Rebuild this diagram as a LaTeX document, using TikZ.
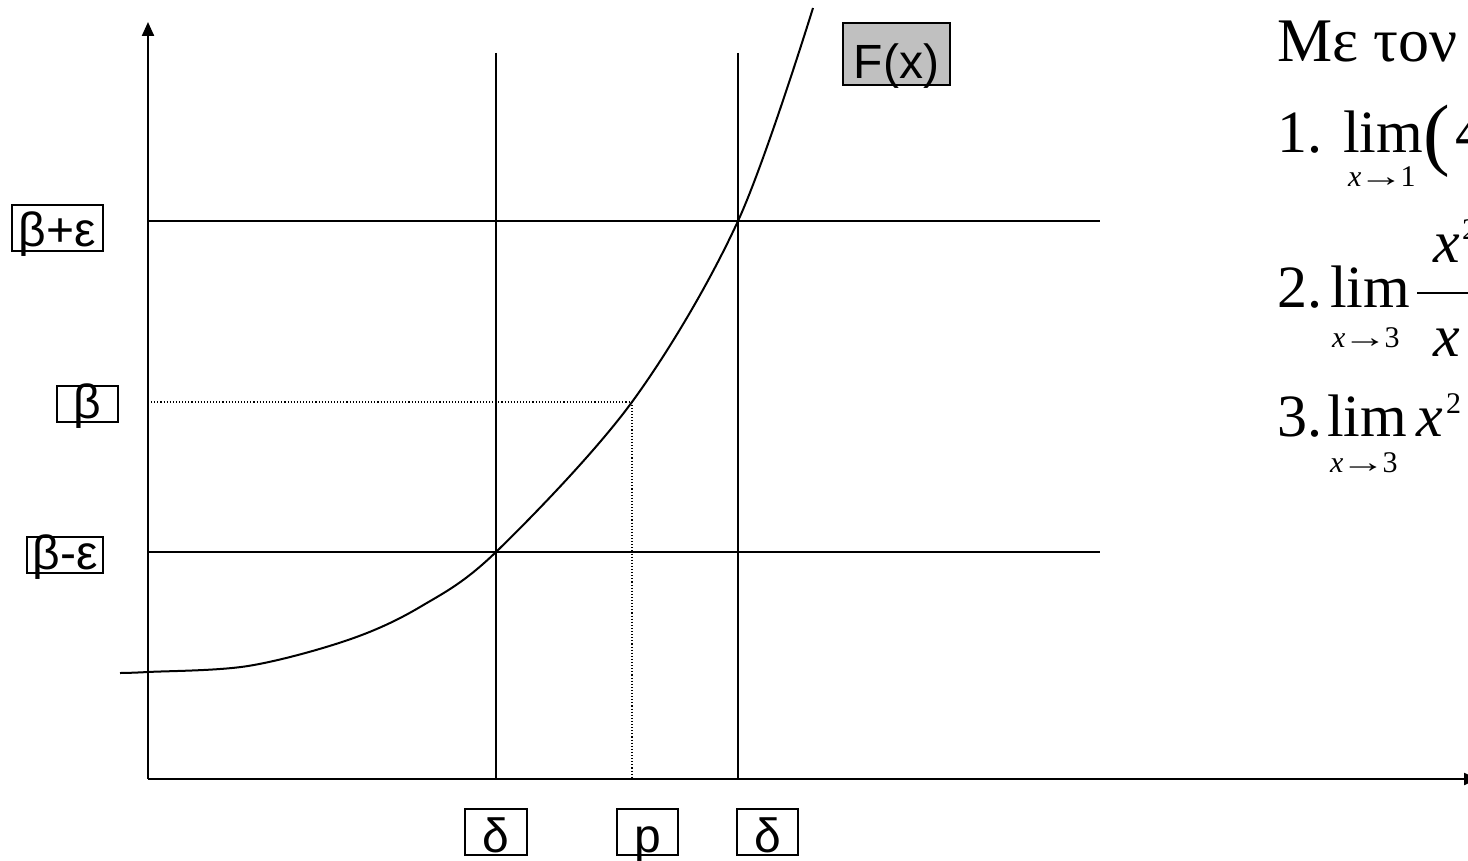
\documentclass[tikz,border=0pt]{standalone}
\usepackage{fontspec}
\usepackage{graphicx}
\setmainfont{Liberation Serif}
\newfontfamily\lblfont{Liberation Sans}
\usetikzlibrary{arrows.meta}
\newcommand{\longarr}{\kern-3pt\scalebox{1.5}[1]{→}\kern-3pt}
\tikzset{
  axis/.style={line width=2.2pt, -{Triangle[width=12pt,length=14pt]}},
  gridline/.style={line width=2pt},
  dotline/.style={line width=1.1pt, dotted},
  curve/.style={line width=2pt},
  lblbox/.style={draw, line width=2pt, font=\lblfont\fontsize{48}{48}\selectfont,
    text depth=0pt, inner xsep=0pt},
  mtext/.style={anchor=base west, inner sep=0pt, font=\fontsize{60}{60}\selectfont},
  stext/.style={anchor=base west, inner sep=0pt, font=\fontsize{30}{30}\selectfont},
  suptext/.style={anchor=base west, inner sep=0pt, font=\fontsize{30}{30}\selectfont},
}
\begin{document}
\begin{tikzpicture}[x=1pt,y=-1pt]
\useasboundingbox (0,0) rectangle (1468,861);
\clip (0,0) rectangle (1468,861);
% axes
\coordinate (O) at (148,779);
\coordinate (ytop) at (148,22);
\coordinate (xend) at (1478,779);
\draw[axis] (O) -- (ytop);
\draw[axis] (O) -- (xend);
% grid lines
\coordinate (hA1) at (148,221); \coordinate (hA2) at (1100,221);
\coordinate (hB1) at (148,552); \coordinate (hB2) at (1100,552);
\coordinate (vA1) at (496,53);  \coordinate (vA2) at (496,779);
\coordinate (vB1) at (738,53);  \coordinate (vB2) at (738,779);
\draw[gridline] (hA1) -- (hA2);
\draw[gridline] (hB1) -- (hB2);
\draw[gridline] (vA1) -- (vA2);
\draw[gridline] (vB1) -- (vB2);
% dotted lines
\coordinate (P) at (632,402);
\coordinate (Py) at (148,402);
\coordinate (Px) at (632,779);
\draw[dotline] (Py) -- (P) -- (Px);
% curve
\draw[curve] plot[smooth, tension=0.55] coordinates {(120,673) (148,672) (248,666) (348,640) (420,607) (496,552) (632,402) (738,221) (813,8)};
% left labels
\node[lblbox, minimum width=91pt, text height=38pt, inner ysep=4pt] (bpe) at (57.5,228) {β+ε};
\node[lblbox, minimum width=61pt, text height=28pt, inner ysep=4pt] (b) at (87.5,404) {β};
\node[lblbox, minimum width=76pt, text height=28pt, inner ysep=4pt] (bme) at (65,555) {β-ε};
% bottom labels
\node[lblbox, minimum width=62pt, text height=42pt, inner ysep=2pt] (d1) at (496,831.5) {δ};
\node[lblbox, minimum width=61pt, text height=42pt, inner ysep=2pt] (p) at (647.5,831.5) {p};
\node[lblbox, minimum width=61pt, text height=42pt, inner ysep=2pt] (d2) at (767.5,831.5) {δ};
% F(x)
\node[lblbox, fill={rgb,255:red,192;green,192;blue,192}, minimum width=107pt, text height=50pt, inner ysep=6pt] (F) at (896.5,54) {F(x)};
% right text
\node[mtext, font=\fontsize{62}{62}\selectfont] (t0) at (1277,62) {Με τον};
\node[mtext] (n1) at (1277,153) {1.};
\node[mtext] (l1) at (1343,153) {lim};
\node[stext] (s1) at (1348,187) {\itshape x\upshape\longarr1};
\node[mtext, font=\fontsize{80}{80}\selectfont] (pa) at (1423,161) {(};
\node[mtext] (f4) at (1455,153) {4};
\node[mtext] (n2) at (1277,308) {2.};
\node[mtext] (l2) at (1330,308) {lim};
\node[stext] (s2) at (1332,347) {\itshape x\upshape\longarr3};
\coordinate (fb1) at (1417,293); \coordinate (fb2) at (1480,293);
\draw[line width=2.5pt] (fb1) -- (fb2);
\node[mtext] (nx) at (1433,263) {\itshape x};
\node[suptext] (ns) at (1462,240) {2};
\node[mtext] (dx) at (1433,356) {\itshape x};
\node[mtext] (n3) at (1277,436) {3.};
\node[mtext] (l3) at (1327,436) {lim};
\node[stext] (s3) at (1330,472) {\itshape x\upshape\longarr3};
\node[mtext] (x3) at (1416,436) {\itshape x};
\node[suptext] (x3s) at (1446,413) {2};
\end{tikzpicture}
\end{document}
